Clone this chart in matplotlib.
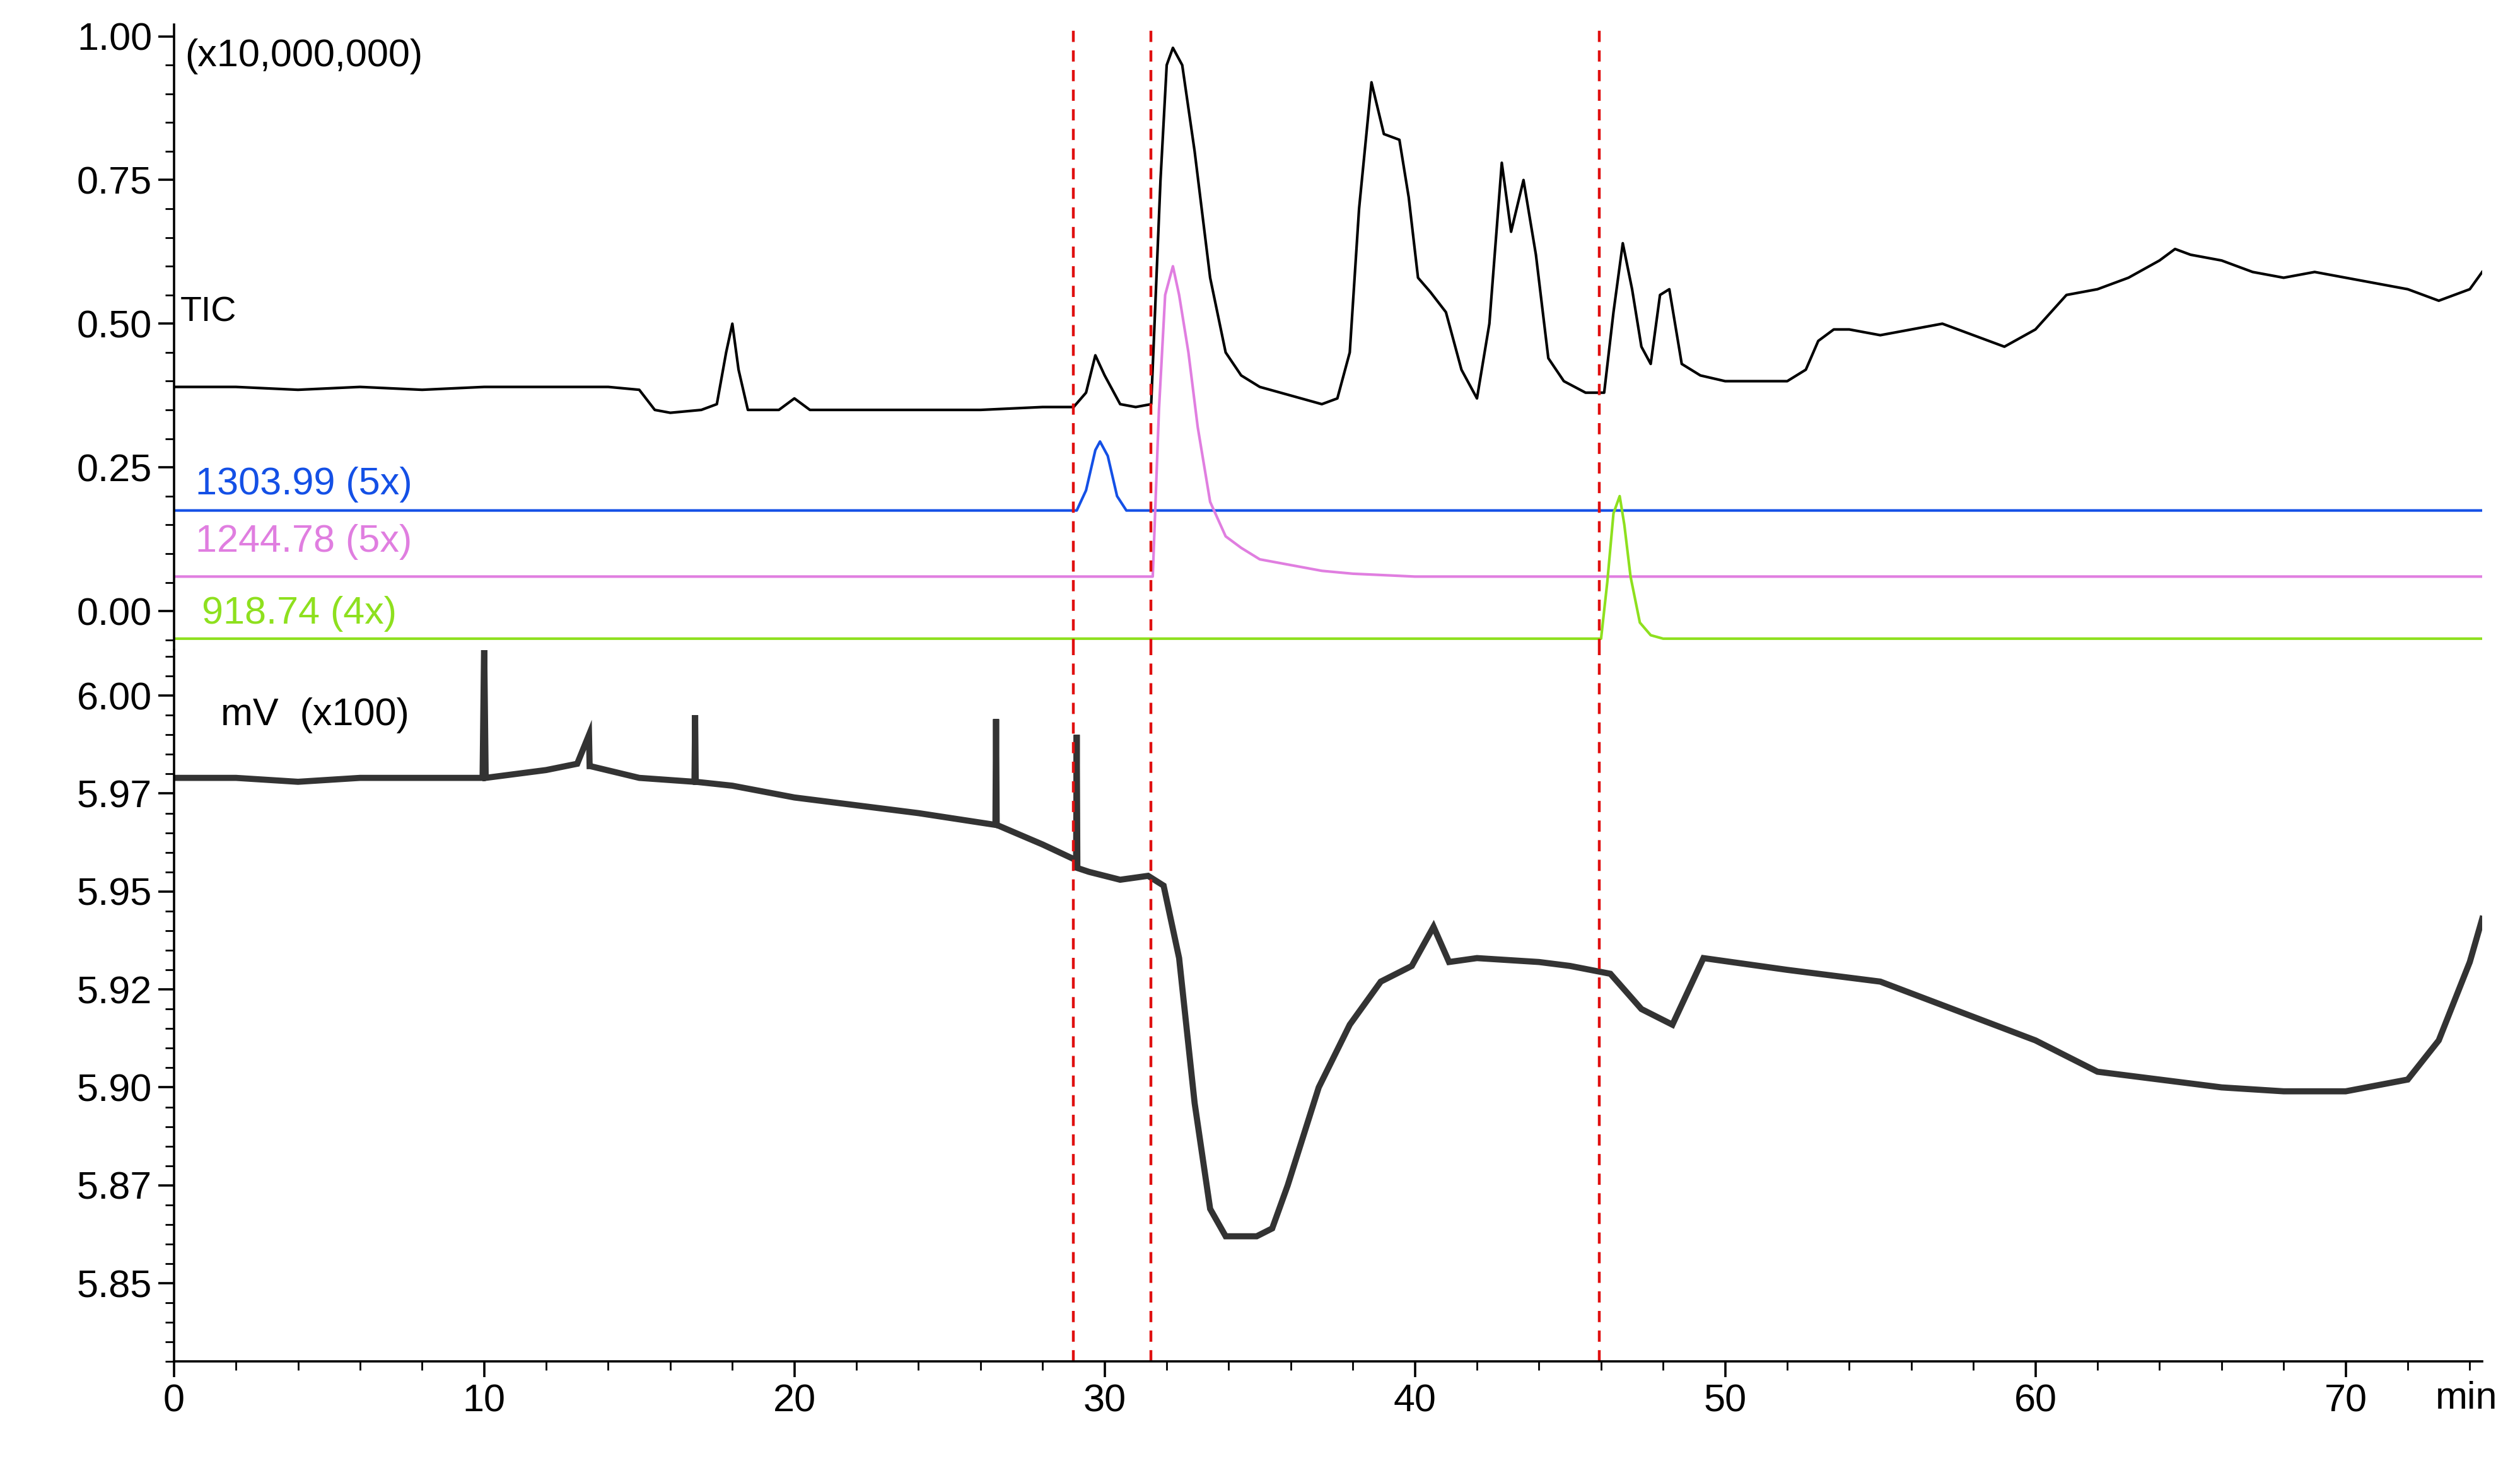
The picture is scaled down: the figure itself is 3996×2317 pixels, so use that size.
import matplotlib
matplotlib.use("Agg")
import matplotlib.pyplot as plt
from matplotlib.ticker import MultipleLocator

tic_t = [0,2,4,6,8,10,12,14,15,15.5,16,17,17.5,17.8,18,18.2,18.5,19.5,20,20.5,22,24,26,28,29,29.4,29.7,30,30.5,31,31.5,31.8,32.0,32.2,32.5,32.9,33.4,33.9,34.4,35,36,37,37.5,37.9,38.2,38.6,39,39.5,39.8,40.1,40.5,41,41.5,42,42.4,42.8,43.1,43.5,43.9,44.3,44.8,45.5,46.1,46.4,46.7,47.0,47.3,47.6,47.9,48.2,48.6,49.2,50,51,52,52.6,53,53.5,54,55,56,57,58,59,60,61,62,63,64,64.5,65,66,67,68,69,70,71,72,73,74,74.4]
tic_v = [0.39,0.39,0.385,0.39,0.385,0.39,0.39,0.39,0.385,0.35,0.345,0.35,0.36,0.45,0.50,0.42,0.35,0.35,0.37,0.35,0.35,0.35,0.35,0.355,0.355,0.38,0.445,0.41,0.36,0.355,0.36,0.75,0.95,0.98,0.95,0.80,0.58,0.45,0.41,0.39,0.375,0.36,0.37,0.45,0.70,0.92,0.83,0.82,0.72,0.58,0.555,0.52,0.42,0.37,0.50,0.78,0.66,0.75,0.62,0.44,0.40,0.38,0.38,0.52,0.64,0.56,0.46,0.43,0.55,0.56,0.43,0.41,0.40,0.40,0.40,0.42,0.47,0.49,0.49,0.48,0.49,0.50,0.48,0.46,0.49,0.55,0.56,0.58,0.61,0.63,0.62,0.61,0.59,0.58,0.59,0.58,0.57,0.56,0.54,0.56,0.59]

b_t = [0,29.1,29.4,29.7,29.85,30.1,30.4,30.7,74.4]
b_v = [0.175,0.175,0.21,0.28,0.295,0.27,0.20,0.175,0.175]

p_t = [0,31.55,31.75,31.95,32.2,32.4,32.7,33.0,33.4,33.9,34.4,35,36,37,38,40,74.4]
p_v = [0.06,0.06,0.35,0.55,0.60,0.55,0.45,0.32,0.19,0.13,0.11,0.09,0.08,0.07,0.065,0.06,0.06]

g_t = [0,46.0,46.2,46.4,46.6,46.75,46.95,47.25,47.6,48.0,74.4]
g_v = [-0.048,-0.048,0.05,0.17,0.20,0.15,0.06,-0.02,-0.042,-0.048,-0.048]

mv_t = [0,2,4,6,8,9.95,10,10.05,12,13,13.38,13.4,13.42,15,16.78,16.8,16.82,18,20,22,24,26.48,26.5,26.52,28,29.08,29.1,29.12,29.5,30.5,31.4,31.9,32.4,32.9,33.4,33.9,34.9,35.4,35.9,36.9,37.9,38.9,39.9,40.6,41.1,42,44,45,46.3,47.3,48.3,49.3,52,55,58,60,62,64,66,68,70,72,73,74,74.4]
mv_v = [5.979,5.979,5.978,5.979,5.979,5.979,6.013,5.979,5.981,5.9826,5.99,5.982,5.982,5.979,5.978,5.995,5.978,5.977,5.974,5.972,5.970,5.967,5.994,5.967,5.962,5.958,5.99,5.956,5.955,5.953,5.954,5.9515,5.933,5.896,5.869,5.862,5.862,5.864,5.875,5.90,5.916,5.927,5.931,5.941,5.932,5.933,5.932,5.931,5.929,5.920,5.916,5.933,5.930,5.927,5.918,5.912,5.904,5.902,5.900,5.899,5.899,5.902,5.912,5.932,5.943]

vlines = [29.0, 31.5, 45.95]

plt.rcParams['font.family'] = ['Liberation Sans', 'DejaVu Sans']
plt.rcParams['font.size'] = 22
fig = plt.figure(figsize=(19.98, 11.585), dpi=200)
ax1 = fig.add_axes([0.069, 0.555, 0.916, 0.428])
ax2 = fig.add_axes([0.069, 0.068, 0.916, 0.487], sharex=ax1)

ax1.plot(tic_t, tic_v, color='black', lw=1.5)
ax1.plot(b_t, b_v, color='#1450e6', lw=1.5)
ax1.plot(p_t, p_v, color='#e07ee0', lw=1.5)
ax1.plot(g_t, g_v, color='#8ee01e', lw=1.5)
ax2.plot(mv_t, mv_v, color='#333333', lw=3.5, solid_joinstyle='miter')

ax1.set_ylim(-0.068, 1.02)
ax2.set_ylim(5.830, 6.0116)
ax1.set_xlim(0, 74.4)

for ax in (ax1, ax2):
    ax.spines['top'].set_visible(False)
    ax.spines['right'].set_visible(False)
    ax.spines['left'].set_linewidth(1.3)
    ax.spines['bottom'].set_linewidth(1.3)
    ax.tick_params(direction='out', length=9, width=1.3, labelsize=22)
    ax.tick_params(which='minor', length=5, width=1)
    for x in vlines:
        ax.axvline(x, color='#e01010', ls=(0, (4, 3)), lw=1.6)
ax1.spines['bottom'].set_visible(False)
ax1.tick_params(axis='x', which='both', bottom=False, labelbottom=False)

ax1.set_yticks([0, 0.25, 0.5, 0.75, 1.0])
ax1.set_yticklabels(['0.00', '0.25', '0.50', '0.75', '1.00'])
ax1.yaxis.set_minor_locator(MultipleLocator(0.05))
ax2.set_yticks([6.0, 5.975, 5.95, 5.925, 5.9, 5.875, 5.85])
ax2.set_yticklabels(['6.00', '5.97', '5.95', '5.92', '5.90', '5.87', '5.85'])
ax2.yaxis.set_minor_locator(MultipleLocator(0.005))
ax2.set_xticks(range(0, 71, 10))
ax2.xaxis.set_minor_locator(MultipleLocator(2))

ax1.text(0.35, 0.965, '(x10,000,000)', fontsize=22, va='center')
ax1.text(0.2, 0.52, 'TIC', fontsize=20, va='center')
ax1.text(0.7, 0.22, '1303.99 (5x)', color='#1450e6', fontsize=22, va='center')
ax1.text(0.7, 0.12, '1244.78 (5x)', color='#e07ee0', fontsize=22, va='center')
ax1.text(0.9, -0.005, '918.74 (4x)', color='#8ee01e', fontsize=22, va='center')
ax2.text(1.5, 5.995, 'mV  (x100)', fontsize=22, va='center')
ax2.text(72.9, 5.8205, 'min', fontsize=22, va='center', ha='left', clip_on=False)

fig.savefig('out.png', dpi=200)
